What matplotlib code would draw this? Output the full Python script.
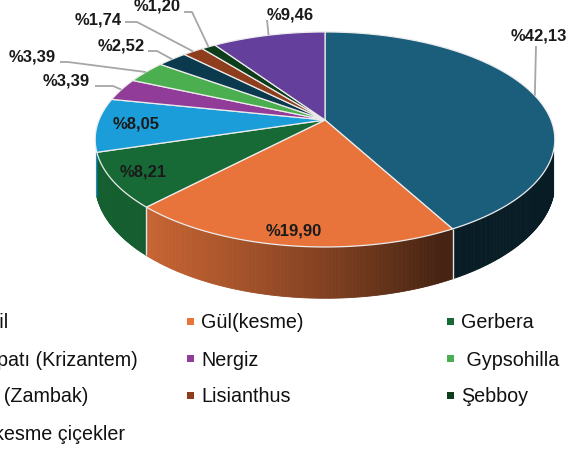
import numpy as np
import matplotlib
matplotlib.use("Agg")
import matplotlib.pyplot as plt
from matplotlib.patches import Polygon, Rectangle

# Cut-flower production shares (%)
categories = ["Karanfil", "Gül(kesme)", "Gerbera", "Kasımpatı (Krizantem)", "Nergiz",
              " Gypsohilla", "Lilyum (Zambak)", "Lisianthus", "Şebboy", "Diğer kesme çiçekler"]
shares = [42.13, 19.90, 8.21, 8.05, 3.39, 3.39, 2.52, 1.74, 1.20, 9.46]
colors = ["#1b5e7b", "#e8743b", "#176a35", "#1b9dd9", "#913c99",
          "#4caf4f", "#0b3a4f", "#8f3e1d", "#0c3e1b", "#643f9b"]

W, H = 567, 449
fig = plt.figure(figsize=(W / 100, H / 100), dpi=100)
ax = fig.add_axes([0, 0, 1, 1])
ax.set_xlim(0, W)
ax.set_ylim(H, 0)
ax.axis("off")

# perspective view of the pie disc (pixel units)
CX, CY = 325.0, 120.0
AX, BY, K, DEPTH = 226.0, 104.0, 0.181, 42.0


def project(theta, r=1.0, drop=0.0):
    t = np.radians(theta)
    u = r * np.sin(t)
    v = r * np.cos(t)
    w = 1 + K * v
    return CX + AX * u / w, CY - BY * v / w + drop / w


def rgb(c):
    return np.array(matplotlib.colors.to_rgb(c))


def shade(theta):
    return 0.3 + 0.6 * max(0.0, np.cos(np.radians(theta - 245)))


total = sum(shares)
bounds = np.concatenate([[0], np.cumsum(shares) / total * 360.0])

# side wall (front half only)
LO, HI = 106.0, 254.0
for i, c in enumerate(colors):
    a0, a1 = max(bounds[i], LO), min(bounds[i + 1], HI)
    if a1 <= a0:
        continue
    steps = np.linspace(a0, a1, max(2, int((a1 - a0) / 0.5) + 1))
    base = rgb(c)
    for t0, t1 in zip(steps[:-1], steps[1:]):
        tm = 0.5 * (t0 + t1)
        col = np.clip(base * shade(tm), 0, 1)
        pts = [project(t0), project(t1), project(t1, drop=DEPTH), project(t0, drop=DEPTH)]
        ax.add_patch(Polygon(pts, closed=True, facecolor=col, edgecolor=col, lw=0.6))

# light seams where slices meet on the side wall
for b in bounds[1:-1]:
    if LO < b < HI - 2:
        x0, y0 = project(b)
        x1, y1 = project(b, drop=DEPTH)
        ax.plot([x0, x1], [y0, y1], color="#e4e4e4", lw=1.0, solid_capstyle="butt")

# top face
for i, c in enumerate(colors):
    arc = np.linspace(bounds[i], bounds[i + 1], max(3, int((bounds[i + 1] - bounds[i]) / 0.5) + 2))
    pts = [(CX, CY)] + [project(t) for t in arc]
    ax.add_patch(Polygon(pts, closed=True, facecolor=c, edgecolor="#ececec", lw=0.9,
                         joinstyle="round"))


def fmt(v):
    return "%" + f"{v:.2f}".replace(".", ",")


label_font = dict(family=["Liberation Sans", "DejaVu Sans"], fontsize=12, fontweight="bold",
                  color="#1a1a1a")

# labels placed inside the larger front slices
inside = {1: 0.9, 2: 0.87, 3: 0.83}
for i, r in inside.items():
    mid = 0.5 * (bounds[i] + bounds[i + 1])
    x, y = project(mid, r=r)
    ax.text(x, y, fmt(shares[i]), ha="center", va="center", **label_font)

# labels outside with leader lines
outside = {
    0: ((539, 36), [(536, 46)]),
    9: ((290, 15), [(267, 20)]),
    8: ((157.5, 6), [(184, 12), (192, 12)]),
    7: ((98.5, 20), [(125, 22), (137, 22)]),
    6: ((121, 46), [(148, 51), (157, 51)]),
    5: ((32.5, 57.5), [(60, 62), (68, 62)]),
    4: ((66.5, 81.5), [(95, 86), (113, 86)]),
}
for i, (txy, way) in outside.items():
    mid = 0.5 * (bounds[i] + bounds[i + 1])
    end = project(mid)
    xs = [p[0] for p in way] + [end[0]]
    ys = [p[1] for p in way] + [end[1]]
    ax.plot(xs, ys, color="#a6a6a6", lw=1.3, solid_capstyle="butt")
    ax.text(txy[0], txy[1], fmt(shares[i]), ha="center", va="center", **label_font)

# legend, three columns
leg_font = dict(family=["Liberation Sans", "DejaVu Sans"], fontsize=14.2, color="#111111")
COL_X = [-73, 187, 447]
ROW_Y = [328, 365.5, 402.5, 440]
for i, (name, c) in enumerate(zip(categories, colors)):
    col, row = i % 3, i // 3
    mx, by = COL_X[col], ROW_Y[row]
    ax.add_patch(Rectangle((mx, by - 10.5), 7, 7, facecolor=c, edgecolor="none"))
    ax.text(mx + 14, by, name, ha="left", va="baseline", **leg_font)

fig.savefig("out.png", dpi=100)
